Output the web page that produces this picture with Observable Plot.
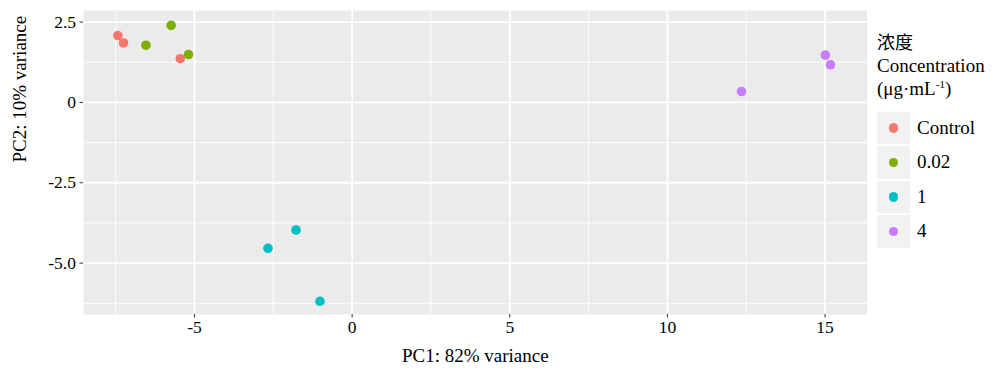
<!DOCTYPE html>
<html>
<head>
<meta charset="utf-8">
<script src="https://cdn.jsdelivr.net/npm/d3@7"></script>
<script src="https://cdn.jsdelivr.net/npm/@observablehq/plot@0.6"></script>
<style>
  html, body { margin: 0; padding: 0; background: #fff; }
  #wrap { position: relative; width: 1000px; height: 377px; font-family: "Liberation Serif", "Times New Roman", serif; }
  #legend { position: absolute; left: 877px; top: 30px; color: #000; font-family: "Liberation Serif", "Times New Roman", serif; }
  #legend .title { font-size: 19px; line-height: 23.5px; }
  #legend .title .cjk { font-family: "Noto Sans CJK SC", sans-serif; font-size: 18px; }
  #legend .items { margin-top: 10px; }
  #legend .row { display: flex; align-items: center; height: 34.5px; }
  #legend .key { width: 32.5px; height: 32.5px; background: #F2F2F2; display: flex; align-items: center; justify-content: center; }
  #legend .dot { width: 9.5px; height: 9.5px; border-radius: 50%; }
  #legend .lab { margin-left: 7.5px; font-size: 19px; font-family: "Liberation Serif", "Times New Roman", serif; }
  sup { font-size: 11px; vertical-align: 7px; line-height: 0; }
  svg text { font-family: "Liberation Serif", "Times New Roman", serif; font-variant: normal !important; }
</style>
</head>
<body>
<div id="wrap"></div>
<script>
// ---- data ----
const groups = ["Control", "0.02", "1", "4"];
const groupColors = ["#F8766D", "#7CAE00", "#00BFC4", "#C77CFF"];
const sampleGroup = ["Control", "Control", "Control", "0.02", "0.02", "0.02", "1", "1", "1", "4", "4", "4"];
const pc1 = [-7.43, -7.25, -5.45, -6.54, -5.74, -5.19, -2.67, -1.78, -1.02, 12.35, 15.01, 15.17];
const pc2 = [2.08, 1.85, 1.36, 1.78, 2.40, 1.49, -4.54, -3.97, -6.19, 0.34, 1.47, 1.17];
const xTicks = [-5, 0, 5, 10, 15];
const xMinor = [-7.5, -2.5, 2.5, 7.5, 12.5];
const yTicks = [-5, -2.5, 0, 2.5];
const yMinor = [-6.25, -3.75, -1.25, 1.25];
const xTitle = "PC1: 82% variance";
const yTitle = "PC2: 10% variance";

const data = pc1.map((x, i) => ({x, y: pc2[i], group: sampleGroup[i]}));
const fmtY = d => d === 0 ? "0" : d.toFixed(1);
const serif = "'Liberation Serif', 'Times New Roman', serif";

const chart = Plot.plot({
  width: 1000,
  height: 377,
  marginLeft: 83,
  marginRight: 133.5,
  marginTop: 10,
  marginBottom: 63,
  style: {fontFamily: serif, fontSize: "17px", color: "#000", background: "#fff"},
  x: {domain: [-8.52, 16.33]},
  y: {domain: [-6.6, 2.86]},
  color: {domain: groups, range: groupColors},
  marks: [
    Plot.frame({fill: "#EBEBEB"}),
    Plot.ruleX(xMinor, {stroke: "#fff", strokeWidth: 0.9}),
    Plot.ruleY(yMinor, {stroke: "#fff", strokeWidth: 0.9}),
    Plot.ruleX(xTicks, {stroke: "#fff", strokeWidth: 1.8}),
    Plot.ruleY(yTicks, {stroke: "#fff", strokeWidth: 1.8}),
    Plot.dot(data, {x: "x", y: "y", fill: "group", r: 4.8, stroke: null}),
    Plot.axisX(xTicks, {tickSize: 3.5, tickPadding: 3, stroke: "#333", fill: "#000", tickFormat: d => String(d), label: null, fontSize: 17.5, fontFamily: serif}),
    Plot.axisY(yTicks, {tickSize: 3.5, tickPadding: 4, stroke: "#333", fill: "#000", tickFormat: fmtY, label: null, fontSize: 17.5, fontFamily: serif}),
    Plot.text([xTitle], {frameAnchor: "bottom", dy: 41, fontSize: 19, fill: "#000", lineAnchor: "middle", fontFamily: serif}),
    Plot.text([yTitle], {frameAnchor: "left", dx: -64, rotate: -90, fontSize: 19, fill: "#000", lineAnchor: "middle", fontFamily: serif})
  ]
});

const wrap = document.getElementById("wrap");
wrap.appendChild(chart);

// legend built from the plot's color scale
const cs = chart.scale("color");
const leg = document.createElement("div");
leg.id = "legend";
leg.innerHTML = `<div class="title"><div class="cjk">浓度</div><div>Concentration</div><div>(μg·mL<sup>-1</sup>)</div></div>`;
const items = document.createElement("div");
items.className = "items";
cs.domain.forEach((g, i) => {
  const row = document.createElement("div");
  row.className = "row";
  row.innerHTML = `<div class="key"><div class="dot" style="background:${cs.range[i]}"></div></div><div class="lab">${g}</div>`;
  items.appendChild(row);
});
leg.appendChild(items);
wrap.appendChild(leg);
</script>
</body>
</html>
